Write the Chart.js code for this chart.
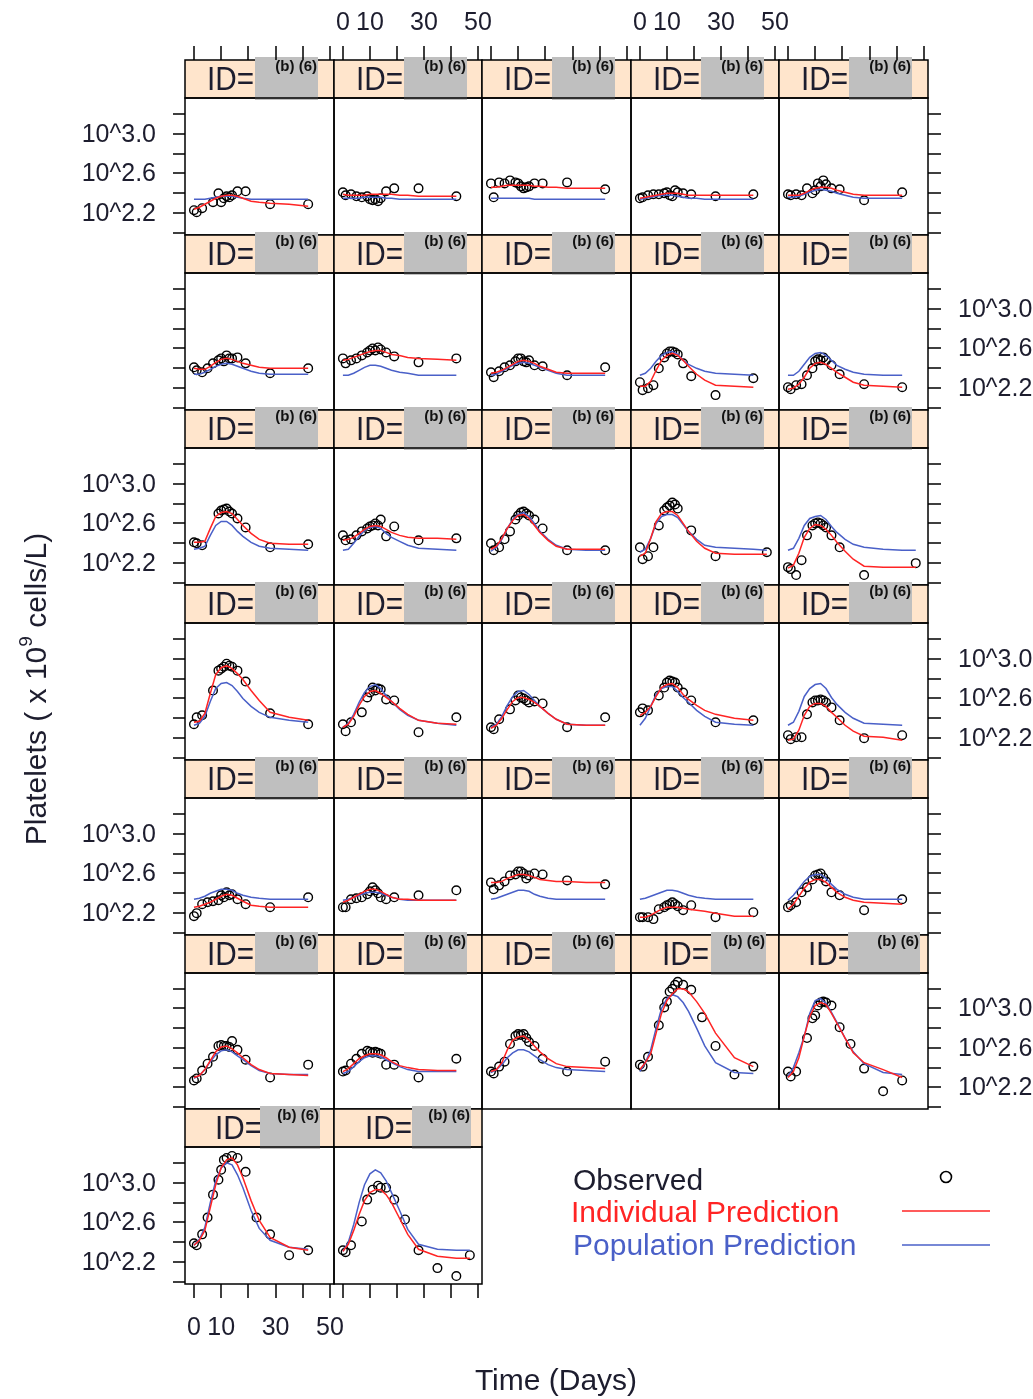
<!DOCTYPE html>
<html><head><meta charset="utf-8">
<script src="https://cdn.jsdelivr.net/npm/chart.js@4.4.0/dist/chart.umd.min.js"></script>
<style>
html,body{margin:0;padding:0;background:#fff;}
#wrap{position:relative;width:1033px;height:1399px;overflow:hidden;background:#fff;}
#wrap canvas{position:absolute;}
</style></head><body><div id="wrap"></div>
<script>
// ---------------- DATA ----------------
const obsTimes  = [0,1,3,5,7,9,10,11,12,13,14,16,19,23,28,35,42,47];
const predTimes = [0,2,4,6,8,10,12,14,16,18,21,24,28,35,42,47];
const _ = null;
// observed log10(platelets), one row per subject (panel)
const observed = [
 [2.23,2.21,2.25,_,2.31,2.40,2.31,2.35,2.37,2.36,2.38,2.42,2.42,_,2.29,_,2.29,_],
 [2.41,2.38,2.39,2.37,2.36,2.37,2.34,2.33,2.34,2.32,2.35,2.42,2.45,_,2.45,_,2.37,_],
 [2.50,2.36,2.51,2.50,2.53,2.51,2.50,2.47,2.45,2.46,2.47,2.50,2.50,_,2.51,_,2.44,_],
 [2.35,2.36,2.38,2.39,2.39,2.40,2.41,2.38,2.37,2.43,2.41,2.40,2.39,_,2.37,_,2.39,_],
 [2.39,2.38,2.39,2.38,2.45,2.40,2.43,2.50,2.47,2.53,2.49,2.45,2.44,_,2.33,_,2.41,_],
 [2.41,2.38,2.36,2.40,2.45,2.48,2.50,2.47,2.53,2.50,2.50,2.51,2.45,_,2.35,_,2.40,_],
 [2.50,2.45,2.48,2.50,2.53,2.56,2.58,2.60,2.58,2.61,2.59,2.56,2.52,_,2.46,_,2.50,_],
 [2.36,2.31,2.37,2.41,2.43,2.47,2.50,2.50,2.47,2.46,2.48,2.43,2.42,_,2.33,_,2.41,_],
 [2.26,2.18,2.20,2.23,2.40,2.51,2.55,2.57,2.57,2.56,2.54,2.45,2.32,_,2.13,_,2.30,_],
 [2.21,2.19,2.23,2.24,2.33,2.40,2.47,2.49,2.48,2.51,2.48,2.43,2.34,_,2.24,_,2.21,_],
 [2.41,2.40,2.38,_,_,2.70,2.73,2.74,2.75,2.72,2.70,2.65,2.56,_,2.36,_,2.39,_],
 [2.48,2.43,2.44,2.48,2.52,2.55,2.57,2.58,2.60,2.58,2.64,2.47,2.57,_,2.43,_,2.45,_],
 [2.40,2.33,2.36,2.44,2.52,2.64,2.68,2.71,2.72,2.70,2.68,2.64,2.55,_,2.33,_,2.33,_],
 [2.36,2.24,2.27,2.36,2.58,2.73,2.76,2.78,2.81,2.79,2.75,_,2.53,_,2.27,_,_,2.31],
 [2.16,2.14,2.08,2.23,2.48,2.58,2.60,2.61,2.60,2.58,2.56,2.48,2.36,_,2.08,_,_,2.20],
 [2.34,2.41,2.43,_,2.68,2.88,2.90,2.92,2.95,2.93,2.92,2.88,2.77,_,2.45,_,2.34,_],
 [2.34,2.27,2.36,_,2.46,2.61,2.66,2.71,2.68,2.70,2.69,2.59,2.58,_,2.26,_,2.41,_],
 [2.31,2.29,2.39,_,2.49,2.58,2.63,2.61,2.60,2.58,2.56,2.57,2.55,_,2.31,_,2.41,_],
 [2.46,2.50,2.48,_,2.63,2.71,2.76,2.78,2.77,2.76,2.71,2.66,2.58,_,2.36,_,2.38,_],
 [2.23,2.19,2.21,2.21,2.44,2.56,2.58,2.58,2.59,2.58,2.56,2.51,2.38,_,2.20,_,2.23,_],
 [2.17,2.20,2.29,2.31,2.32,2.33,2.38,2.36,2.41,2.38,2.39,2.34,2.29,_,2.26,_,2.36,_],
 [2.26,2.26,2.34,2.35,2.36,2.39,2.42,2.46,2.43,2.40,2.36,2.34,2.36,_,2.38,_,2.43,_],
 [2.51,2.44,2.48,2.52,2.58,2.59,2.62,2.62,2.60,2.55,2.58,2.60,2.59,_,2.53,_,2.49,_],
 [2.16,2.16,2.16,2.14,2.24,2.26,2.28,2.29,2.31,2.29,2.27,2.23,2.28,_,2.16,_,2.21,_],
 [2.26,2.28,2.31,2.41,2.46,2.54,2.58,2.59,2.60,2.56,2.52,2.41,2.38,_,2.23,_,2.34,_],
 [2.27,2.29,2.37,2.44,2.51,2.62,2.63,2.62,2.62,2.61,2.67,2.58,2.48,_,2.30,_,2.43,_],
 [2.36,2.37,2.44,2.49,2.54,2.57,2.56,2.55,2.56,2.55,2.54,2.43,2.43,_,2.30,_,2.49,_],
 [2.36,2.34,2.41,2.46,2.64,2.72,2.74,2.73,2.74,2.70,2.66,2.62,2.49,_,2.36,_,2.46,_],
 [2.43,2.41,2.51,_,2.83,3.01,3.07,3.17,3.20,3.24,3.27,3.24,3.19,2.91,2.62,2.33,2.41,_],
 [2.36,2.31,2.36,_,2.70,2.90,2.93,3.03,3.06,3.07,3.06,3.03,2.81,2.64,2.39,2.16,2.27,_],
 [2.39,2.37,2.48,2.65,2.88,3.03,3.13,3.23,3.25,_,3.27,3.25,3.11,2.65,2.48,2.27,2.32,_],
 [2.32,2.30,2.37,_,2.61,2.83,_,2.93,_,2.97,2.95,2.95,2.83,2.63,2.32,2.14,2.06,2.27]
];
const individualPrediction = [
 [2.24,2.26,2.29,2.32,2.35,2.37,2.38,2.38,2.37,2.35,2.32,2.31,2.30,2.29,2.27,_],
 [2.39,2.38,2.38,2.38,2.38,2.39,2.39,2.39,2.39,2.39,2.38,2.38,2.37,2.37,2.37,_],
 [2.46,2.46,2.47,2.48,2.48,2.48,2.48,2.48,2.47,2.47,2.46,2.46,2.45,2.45,2.45,_],
 [2.35,2.36,2.37,2.38,2.39,2.40,2.40,2.40,2.39,2.38,2.38,2.38,2.38,2.38,2.38,_],
 [2.38,2.38,2.38,2.40,2.43,2.45,2.46,2.46,2.45,2.43,2.41,2.39,2.38,2.38,2.38,_],
 [2.40,2.39,2.39,2.42,2.46,2.49,2.50,2.49,2.47,2.45,2.43,2.41,2.40,2.40,2.40,_],
 [2.48,2.49,2.51,2.53,2.55,2.57,2.58,2.58,2.56,2.54,2.53,2.51,2.50,2.49,2.48,_],
 [2.35,2.36,2.38,2.41,2.44,2.47,2.48,2.47,2.45,2.42,2.39,2.36,2.35,2.35,2.35,_],
 [2.22,2.22,2.27,2.38,2.48,2.53,2.55,2.53,2.48,2.42,2.34,2.28,2.23,2.22,2.21,_],
 [2.19,2.20,2.24,2.31,2.40,2.45,2.46,2.44,2.40,2.36,2.31,2.26,2.23,2.22,2.21,_],
 [2.41,2.41,2.42,2.55,2.67,2.71,2.72,2.70,2.64,2.58,2.50,2.44,2.40,2.39,2.39,_],
 [2.43,2.44,2.46,2.50,2.54,2.57,2.58,2.57,2.54,2.51,2.48,2.46,2.45,2.45,2.44,_],
 [2.34,2.37,2.45,2.55,2.63,2.68,2.69,2.65,2.58,2.51,2.43,2.37,2.34,2.34,2.34,_],
 [2.27,2.30,2.45,2.62,2.70,2.72,2.72,2.68,2.60,2.52,2.42,2.35,2.30,2.29,2.29,2.29],
 [2.15,2.18,2.30,2.46,2.55,2.59,2.58,2.54,2.48,2.41,2.32,2.24,2.17,2.16,2.16,2.16],
 [2.36,2.37,2.45,2.65,2.84,2.91,2.93,2.90,2.85,2.79,2.68,2.58,2.46,2.41,2.38,_],
 [2.31,2.34,2.42,2.53,2.62,2.67,2.68,2.65,2.61,2.57,2.50,2.44,2.38,2.35,2.34,_],
 [2.30,2.33,2.40,2.49,2.57,2.61,2.61,2.59,2.56,2.52,2.45,2.39,2.34,2.33,2.33,_],
 [2.43,2.46,2.52,2.62,2.71,2.74,2.75,2.71,2.64,2.59,2.53,2.48,2.44,2.40,2.38,_],
 [2.18,2.19,2.28,2.43,2.52,2.55,2.55,2.52,2.46,2.41,2.33,2.27,2.22,2.21,2.18,_],
 [2.26,2.27,2.29,2.31,2.34,2.37,2.39,2.38,2.35,2.32,2.28,2.27,2.26,2.26,2.26,_],
 [2.31,2.33,2.36,2.39,2.42,2.44,2.44,2.42,2.39,2.36,2.34,2.34,2.33,2.33,2.33,_],
 [2.51,2.51,2.52,2.55,2.57,2.59,2.59,2.58,2.56,2.54,2.53,2.52,2.52,2.51,2.51,_],
 [2.16,2.16,2.18,2.21,2.24,2.26,2.26,2.26,2.25,2.24,2.23,2.22,2.20,2.17,2.17,_],
 [2.24,2.29,2.37,2.45,2.51,2.54,2.54,2.51,2.46,2.41,2.36,2.33,2.31,2.30,2.29,_],
 [2.30,2.32,2.38,2.47,2.56,2.61,2.62,2.59,2.55,2.50,2.43,2.38,2.34,2.33,2.32,_],
 [2.36,2.39,2.44,2.49,2.52,2.54,2.54,2.53,2.50,2.46,2.42,2.40,2.38,2.37,2.37,_],
 [2.36,2.38,2.45,2.58,2.68,2.71,2.72,2.68,2.62,2.56,2.49,2.44,2.41,2.40,2.39,_],
 [2.38,2.45,2.54,2.75,2.95,3.08,3.15,3.20,3.20,3.17,3.07,2.95,2.75,2.50,2.41,_],
 [2.30,2.36,2.50,2.72,2.92,3.03,3.06,3.04,2.95,2.85,2.70,2.55,2.45,2.38,2.30,_],
 [2.37,2.42,2.52,2.75,2.98,3.15,3.23,3.25,3.18,3.05,2.82,2.62,2.45,2.35,2.32,_],
 [2.31,2.38,2.52,2.68,2.82,2.90,2.93,2.93,2.88,2.80,2.64,2.48,2.33,2.26,2.24,2.24]
];
const populationPrediction = [
 [2.34,2.34,2.34,2.35,2.36,2.37,2.37,2.37,2.36,2.35,2.34,2.34,2.34,2.34,2.34,_],
 [2.35,2.35,2.35,2.35,2.36,2.36,2.36,2.36,2.35,2.35,2.34,2.34,2.34,2.34,2.34,_],
 [2.35,2.35,2.35,2.35,2.35,2.35,2.35,2.35,2.34,2.34,2.34,2.34,2.34,2.34,2.34,_],
 [2.34,2.35,2.36,2.37,2.38,2.38,2.38,2.37,2.36,2.35,2.35,2.34,2.34,2.34,2.34,_],
 [2.36,2.36,2.37,2.39,2.41,2.43,2.44,2.43,2.42,2.40,2.38,2.36,2.35,2.35,2.35,_],
 [2.34,2.34,2.36,2.39,2.42,2.44,2.45,2.44,2.42,2.40,2.37,2.35,2.34,2.34,2.34,_],
 [2.33,2.33,2.35,2.38,2.41,2.43,2.43,2.42,2.40,2.38,2.36,2.35,2.33,2.33,2.33,_],
 [2.33,2.34,2.37,2.40,2.43,2.45,2.46,2.45,2.43,2.41,2.38,2.35,2.33,2.33,2.33,_],
 [2.33,2.35,2.40,2.47,2.53,2.56,2.57,2.54,2.48,2.44,2.40,2.37,2.35,2.34,2.33,_],
 [2.33,2.33,2.37,2.44,2.51,2.55,2.56,2.53,2.48,2.43,2.39,2.36,2.34,2.33,2.33,_],
 [2.34,2.35,2.37,2.48,2.58,2.62,2.62,2.58,2.52,2.47,2.41,2.37,2.35,2.34,2.33,_],
 [2.33,2.34,2.40,2.47,2.53,2.56,2.57,2.55,2.50,2.46,2.42,2.38,2.35,2.34,2.33,_],
 [2.32,2.36,2.44,2.55,2.64,2.69,2.71,2.67,2.60,2.52,2.44,2.38,2.34,2.33,2.33,_],
 [2.31,2.34,2.45,2.60,2.67,2.69,2.69,2.66,2.59,2.52,2.44,2.38,2.36,2.35,2.34,2.33],
 [2.33,2.35,2.45,2.58,2.65,2.67,2.68,2.64,2.57,2.51,2.44,2.39,2.36,2.34,2.33,2.33],
 [2.33,2.35,2.42,2.57,2.70,2.75,2.76,2.73,2.67,2.60,2.52,2.46,2.41,2.38,2.36,_],
 [2.31,2.35,2.44,2.56,2.66,2.72,2.74,2.70,2.63,2.57,2.49,2.43,2.38,2.35,2.33,_],
 [2.31,2.34,2.42,2.53,2.62,2.67,2.68,2.64,2.58,2.52,2.45,2.39,2.34,2.33,2.33,_],
 [2.33,2.40,2.52,2.64,2.70,2.72,2.72,2.67,2.61,2.56,2.48,2.42,2.36,2.34,2.33,_],
 [2.33,2.36,2.47,2.62,2.70,2.74,2.75,2.70,2.61,2.54,2.46,2.40,2.35,2.34,2.33,_],
 [2.34,2.35,2.37,2.40,2.42,2.44,2.44,2.43,2.40,2.38,2.36,2.35,2.34,2.34,2.34,_],
 [2.33,2.34,2.36,2.38,2.40,2.41,2.41,2.40,2.38,2.36,2.34,2.33,2.33,2.33,2.33,_],
 [2.34,2.35,2.37,2.39,2.41,2.43,2.43,2.42,2.39,2.37,2.35,2.34,2.34,2.34,2.34,_],
 [2.34,2.35,2.37,2.39,2.41,2.43,2.43,2.42,2.40,2.38,2.36,2.35,2.34,2.34,2.34,_],
 [2.33,2.38,2.45,2.52,2.57,2.59,2.59,2.55,2.49,2.44,2.39,2.36,2.34,2.34,2.34,_],
 [2.29,2.32,2.38,2.46,2.53,2.57,2.58,2.56,2.52,2.48,2.42,2.37,2.34,2.33,2.33,_],
 [2.34,2.36,2.41,2.46,2.50,2.52,2.52,2.51,2.48,2.45,2.41,2.38,2.36,2.36,2.36,_],
 [2.35,2.38,2.43,2.50,2.55,2.58,2.58,2.56,2.52,2.48,2.43,2.40,2.38,2.37,2.36,_],
 [2.36,2.45,2.58,2.80,3.00,3.10,3.14,3.12,3.06,2.97,2.80,2.62,2.45,2.35,2.34,_],
 [2.31,2.40,2.55,2.72,2.95,3.08,3.10,3.05,2.96,2.86,2.70,2.56,2.44,2.35,2.33,_],
 [2.37,2.43,2.55,2.80,3.02,3.15,3.20,3.18,3.08,2.95,2.72,2.54,2.42,2.35,2.33,_],
 [2.31,2.40,2.58,2.80,2.98,3.09,3.13,3.10,3.02,2.90,2.72,2.53,2.38,2.33,2.32,2.32]
];
const xTickValues = [0,10,20,30,40,50];
const xTickLabels = ['0','10','','30','','50'];
const yTickValues = [2.0,2.2,2.4,2.6,2.8,3.0,3.2];
const yTickLabels = ['','10^2.2','','10^2.6','','10^3.0',''];
const stripLabel = 'ID=';
const redactionLabel = '(b) (6)';
const legendLabels = ['Observed','Individual Prediction','Population Prediction'];
const xTitle = 'Time (Days)';
const yTitleParts = ['Platelets ( x 10','9',' cells/L)'];

// ---------------- LAYOUT / STYLE ----------------
const FONT = '"Liberation Sans", Arial, Helvetica, sans-serif';
const NCOL = 5, NROW = 7;
const GRID_LEFT = 185, COL_W = 148.5, GRID_TOP = 60, ROW_H = 174.9, STRIP_H = 38;
const ML = 175, MR = 110, MT = STRIP_H + 64, MB = 70;
const RED = '#ff2424', BLUE = '#4a60c8', TXT = '#1d1d2e';
// redaction box / label tweaks: [idOffset, boxOffset, boxWidth]
const stripTweak = {28:[31,80,55], 29:[29,69,72], 30:[30,75,60], 31:[31,78,59]};

const wrap = document.getElementById('wrap');

const lattice = {
  id: 'lattice',
  beforeDraw(chart, args, o) {
    const ctx = chart.ctx, a = chart.chartArea;
    const w = a.right - a.left, st = a.top - STRIP_H;
    ctx.save();
    ctx.fillStyle = '#FFE5CC';
    ctx.fillRect(a.left, st, w, STRIP_H);
    ctx.strokeStyle = '#000'; ctx.lineWidth = 1.5;
    ctx.strokeRect(a.left, st, w, STRIP_H);
    const tw = stripTweak[o.index] || [22,70,63];
    ctx.fillStyle = TXT;
    ctx.font = '33px ' + FONT;
    ctx.textBaseline = 'middle'; ctx.textAlign = 'left';
    ctx.translate(a.left + tw[0], st + 21);
    ctx.scale(0.9, 1);
    ctx.fillText(stripLabel, 0, 0);
    ctx.restore();
    ctx.save();
    ctx.fillStyle = '#bfbfbf';
    ctx.fillRect(a.left + tw[1], st - 3, tw[2], STRIP_H + 5);
    ctx.fillStyle = '#111';
    ctx.font = 'bold 15px ' + FONT;
    ctx.textAlign = 'right'; ctx.textBaseline = 'middle';
    ctx.fillText(redactionLabel, a.left + tw[1] + tw[2] - 1, st + 7);
    ctx.restore();
  },
  afterDraw(chart, args, o) {
    const ctx = chart.ctx, a = chart.chartArea;
    const sx = chart.scales.x, sy = chart.scales.y;
    ctx.save();
    ctx.strokeStyle = '#000'; ctx.lineWidth = 1.5;
    ctx.strokeRect(a.left, a.top, a.right - a.left, a.bottom - a.top);
    ctx.fillStyle = TXT;
    ctx.font = '25px ' + FONT;
    const st = a.top - STRIP_H;
    ctx.beginPath();
    if (o.top) {
      xTickValues.forEach(v => { const x = Math.round(sx.getPixelForValue(v)); ctx.moveTo(x, st); ctx.lineTo(x, st - 14); });
    }
    if (o.bottom) {
      xTickValues.forEach(v => { const x = Math.round(sx.getPixelForValue(v)); ctx.moveTo(x, a.bottom); ctx.lineTo(x, a.bottom + 14); });
    }
    if (o.left) {
      yTickValues.forEach(v => { const y = Math.round(sy.getPixelForValue(v)); ctx.moveTo(a.left, y); ctx.lineTo(a.left - 12, y); });
    }
    if (o.right) {
      yTickValues.forEach(v => { const y = Math.round(sy.getPixelForValue(v)); ctx.moveTo(a.right, y); ctx.lineTo(a.right + 13, y); });
    }
    ctx.stroke();
    ctx.textBaseline = 'middle';
    if (o.topLabels) {
      ctx.textAlign = 'center';
      xTickValues.forEach((v,k) => { if (xTickLabels[k]) ctx.fillText(xTickLabels[k], sx.getPixelForValue(v), st - 37); });
    }
    if (o.bottomLabels) {
      ctx.textAlign = 'center';
      xTickValues.forEach((v,k) => { if (xTickLabels[k]) ctx.fillText(xTickLabels[k], sx.getPixelForValue(v), a.bottom + 44); });
    }
    if (o.leftLabels) {
      ctx.textAlign = 'right';
      yTickValues.forEach((v,k) => { if (yTickLabels[k]) ctx.fillText(yTickLabels[k], a.left - 29, sy.getPixelForValue(v) + 1); });
    }
    if (o.rightLabels) {
      ctx.textAlign = 'left';
      yTickValues.forEach((v,k) => { if (yTickLabels[k]) ctx.fillText(yTickLabels[k], a.right + 30, sy.getPixelForValue(v) + 1); });
    }
    ctx.restore();
  }
};

const nPanels = observed.length;
const lastRow = Math.floor((nPanels - 1) / NCOL);
for (let i = 0; i < nPanels; i++) {
  const r = Math.floor(i / NCOL), c = i % NCOL;
  const pl = Math.round(GRID_LEFT + c * COL_W), pr = Math.round(GRID_LEFT + (c + 1) * COL_W);
  const st = Math.round(GRID_TOP + r * ROW_H), pt = st + STRIP_H, pb = Math.round(GRID_TOP + (r + 1) * ROW_H);
  const cv = document.createElement('canvas');
  const cw = (pr - pl) + ML + MR, ch = (pb - pt) + MT + MB;
  cv.width = cw; cv.height = ch;
  cv.style.width = cw + 'px'; cv.style.height = ch + 'px';
  cv.style.left = (pl - ML) + 'px'; cv.style.top = (pt - MT) + 'px';
  wrap.appendChild(cv);
  const obsPts = [];
  observed[i].forEach((v, k) => { if (v !== null) obsPts.push({x: obsTimes[k], y: v}); });
  const ip = [], pp = [];
  predTimes.forEach((t, k) => {
    if (individualPrediction[i][k] !== null) ip.push({x: t, y: individualPrediction[i][k]});
    if (populationPrediction[i][k] !== null) pp.push({x: t, y: populationPrediction[i][k]});
  });
  new Chart(cv, {
    type: 'line',
    data: { datasets: [
      { label: legendLabels[0], data: obsPts, showLine: false, pointRadius: 4.3, pointBorderWidth: 1.4,
        pointBorderColor: '#000', pointBackgroundColor: 'rgba(0,0,0,0)', order: 3 },
      { label: legendLabels[2], data: pp, borderColor: BLUE, borderWidth: 1.5, pointRadius: 0, tension: 0, order: 2 },
      { label: legendLabels[1], data: ip, borderColor: RED, borderWidth: 1.5, pointRadius: 0, tension: 0, order: 1 }
    ]},
    options: {
      responsive: false, animation: false, devicePixelRatio: 1,
      layout: { padding: { left: ML, right: MR, top: MT, bottom: MB } },
      scales: {
        x: { type: 'linear', min: -3.3, max: 51.5, display: false },
        y: { type: 'linear', min: 1.98, max: 3.36, display: false }
      },
      plugins: {
        legend: { display: false }, tooltip: { enabled: false },
        lattice: {
          index: i,
          top: r === 0, topLabels: r === 0 && c % 2 === 1,
          bottom: r === lastRow, bottomLabels: r === lastRow && c % 2 === 0,
          left: c === 0, leftLabels: c === 0 && r % 2 === 0,
          right: c === NCOL - 1, rightLabels: c === NCOL - 1 && r % 2 === 1
        }
      }
    },
    plugins: [lattice]
  });
}

// ---------------- titles & legend ----------------
const ov = document.createElement('canvas');
ov.width = 1033; ov.height = 1399;
ov.style.left = '0px'; ov.style.top = '0px';
wrap.appendChild(ov);
const g = ov.getContext('2d');
g.fillStyle = TXT;
g.textBaseline = 'middle';
g.font = '30px ' + FONT; g.textAlign = 'center';
g.fillText(xTitle, 556, 1382);
g.save();
g.translate(38, 689);
g.rotate(-Math.PI / 2);
g.font = '30px ' + FONT;
const w0 = g.measureText(yTitleParts[0]).width;
g.font = '19px ' + FONT;
const w1 = g.measureText(yTitleParts[1]).width;
g.font = '30px ' + FONT;
const w2 = g.measureText(yTitleParts[2]).width;
let x0 = -(w0 + w1 + w2) / 2;
g.textAlign = 'left';
g.fillText(yTitleParts[0], x0, 0);
g.font = '19px ' + FONT;
g.fillText(yTitleParts[1], x0 + w0, -11);
g.font = '30px ' + FONT;
g.fillText(yTitleParts[2], x0 + w0 + w1, 0);
g.restore();
g.font = '30px ' + FONT; g.textAlign = 'left';
g.fillStyle = TXT; g.fillText(legendLabels[0], 573, 1182);
g.fillStyle = RED; g.fillText(legendLabels[1], 571, 1214);
g.fillStyle = BLUE; g.fillText(legendLabels[2], 573, 1247);
g.strokeStyle = '#000'; g.lineWidth = 1.6;
g.beginPath(); g.arc(946, 1177, 5.5, 0, Math.PI * 2); g.stroke();
g.strokeStyle = RED; g.lineWidth = 1.5;
g.beginPath(); g.moveTo(902, 1211); g.lineTo(990, 1211); g.stroke();
g.strokeStyle = BLUE;
g.beginPath(); g.moveTo(902, 1245); g.lineTo(990, 1245); g.stroke();
</script>
</body></html>
